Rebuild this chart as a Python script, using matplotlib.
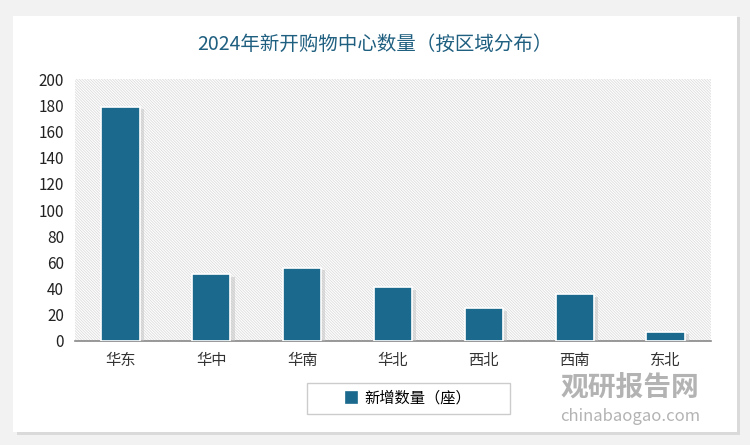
import matplotlib.pyplot as plt
from matplotlib.patches import FancyBboxPatch, Rectangle
import matplotlib.patheffects as pe

plt.rcParams['font.family'] = ['Noto Sans CJK SC', 'DejaVu Sans']
plt.rcParams['hatch.color'] = '#dcdcdc'
plt.rcParams['hatch.linewidth'] = 0.6

# 数据
regions = ['华东', '华中', '华南', '华北', '西北', '西南', '东北']
new_malls = [179, 51, 56, 41, 25, 36, 7]
title = '2024年新开购物中心数量（按区域分布）'
legend_label = '新增数量（座）'

bar_color = '#1b6a8e'

fig = plt.figure(figsize=(7.5, 4.45), dpi=100)
fig.patch.set_facecolor('#f2f2f2')

# 白色卡片 + 阴影
shadow = FancyBboxPatch((0.022, 0.022), 0.965, 0.94, boxstyle='square,pad=0',
                        transform=fig.transFigure, facecolor='#dadada',
                        edgecolor='none', zorder=0)
card = FancyBboxPatch((0.018, 0.03), 0.965, 0.935, boxstyle='square,pad=0',
                      transform=fig.transFigure, facecolor='white',
                      edgecolor='none', zorder=1)
# 图例外框
leg_box = Rectangle((0.409, 0.07), 0.271, 0.07, transform=fig.transFigure,
                    facecolor='white', edgecolor='#cccccc', linewidth=1,
                    zorder=2)
fig.patches.extend([shadow, card, leg_box])

ax = fig.add_axes([0.1, 0.234, 0.848, 0.588])
ax.set_zorder(2)
ax.patch.set_facecolor('white')
ax.patch.set_hatch('\\' * 12)
ax.patch.set_edgecolor('#dcdcdc')
ax.patch.set_linewidth(0)

x = range(len(regions))
bars = ax.bar(x, new_malls, width=0.42, color=bar_color,
              edgecolor='white', linewidth=1.2, zorder=3,
              label=legend_label)
for b in bars:
    b.set_path_effects([pe.SimplePatchShadow(offset=(3, -2), shadow_rgbFace='#bdbdbd', alpha=0.45),
                        pe.Normal()])

ax.set_xlim(-0.5, len(regions) - 0.5)
ax.set_ylim(0, 200)
ax.set_yticks(range(0, 201, 20))
ax.set_xticks(list(x))
ax.set_xticklabels(regions, fontsize=11, color='#333333')
ax.tick_params(axis='y', labelsize=11, colors='#222222', length=0, pad=8)
ax.tick_params(axis='x', length=0, pad=8)
for s in ['top', 'right', 'left']:
    ax.spines[s].set_visible(False)
ax.spines['bottom'].set_color('#888888')
ax.spines['bottom'].set_linewidth(1.2)

fig.text(0.5, 0.9, title, ha='center', va='center', fontsize=14,
         color='#1f5f80', zorder=5)

leg = fig.legend(handles=[bars], labels=[legend_label], loc='center',
                 bbox_to_anchor=(0.5445, 0.105), fontsize=11, frameon=False,
                 handlelength=0.7, handleheight=0.7, handletextpad=0.5)
leg.set_zorder(5)
for h in leg.legend_handles:
    h.set_path_effects([])
    h.set_edgecolor(bar_color)

# 水印
fig.text(0.84, 0.13, '观研报告网', ha='center', va='center', fontsize=20,
         fontweight='bold', color='#9a9a9a', alpha=0.75, zorder=6)
fig.text(0.84, 0.065, 'chinabaogao.com', ha='center', va='center',
         fontsize=12, color='#9a9a9a', alpha=0.75, zorder=6)

fig.savefig('out.png', dpi=100, facecolor=fig.get_facecolor())
